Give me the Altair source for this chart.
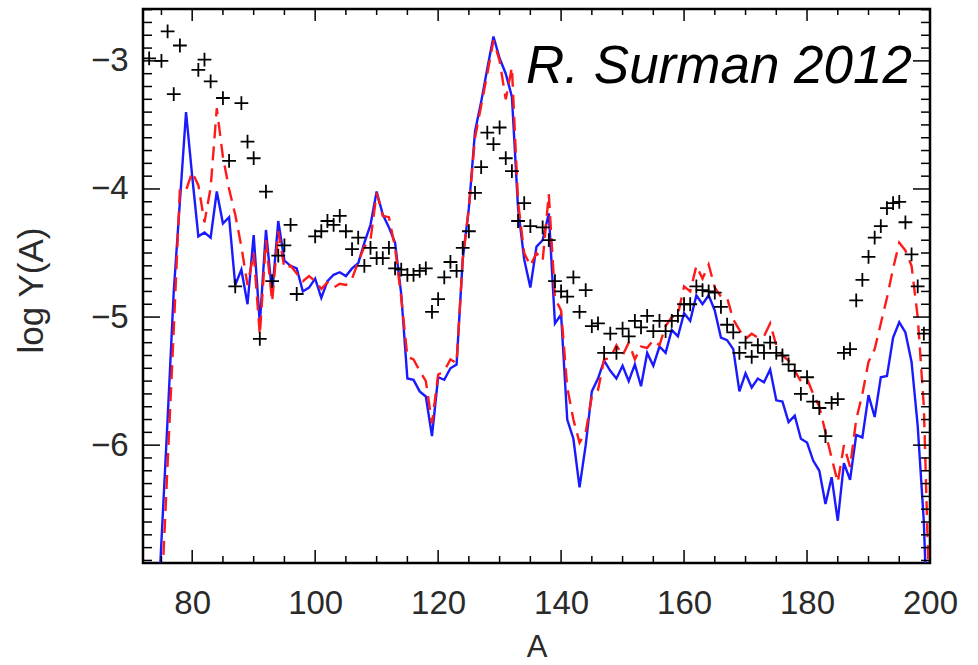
import altair as alt
import pandas as pd

# ---------------- data ----------------
cross_A = [73, 75, 76, 77, 78, 81, 82, 83, 85, 86, 87, 88, 89, 90, 91, 92, 93, 94, 95, 96, 97,
           100, 101, 102, 103, 104, 105, 106, 107, 108, 109, 110, 111, 112, 113, 114, 115, 116,
           117, 118, 119, 120, 121, 122, 123, 124, 125, 126, 127, 128, 129, 130, 131, 132, 133,
           134, 135, 137, 138, 139, 140, 141, 142, 143, 144, 145, 146, 147, 148, 149, 150, 151,
           152, 153, 154, 155, 156, 157, 158, 159, 160, 161, 162, 163, 164, 165, 166, 167, 168,
           169, 170, 171, 172, 173, 174, 175, 176, 177, 178, 179, 180, 181, 182, 183, 184, 185,
           186, 187, 188, 189, 190, 191, 192, 193, 194, 195, 196, 197, 198, 199]
cross_logY = [-2.98, -3.00, -2.77, -3.26, -2.88, -3.07, -2.99, -3.16, -3.29, -3.78, -4.76, -3.33,
              -3.63, -3.76, -5.17, -4.02, -4.72, -4.52, -4.44, -4.28, -4.82,
              -4.37, -4.33, -4.25, -4.28, -4.21, -4.33, -4.47, -4.38, -4.60, -4.46, -4.54, -4.54,
              -4.46, -4.62, -4.63, -4.67, -4.67,
              -4.64, -4.62, -4.96, -4.86, -4.69, -4.57, -4.64, -4.46, -4.33, -4.03, -3.83, -3.56,
              -3.65, -3.52, -3.76, -3.86, -4.25,
              -4.11, -4.29, -4.30, -4.40, -4.72, -4.80, -4.84, -4.69, -4.96, -4.79, -5.07, -5.05,
              -5.28, -5.13, -5.28, -5.09, -5.15,
              -5.03, -5.08, -4.99, -5.11, -5.03, -5.11, -5.03, -4.99, -4.90, -4.90, -4.76, -4.79,
              -4.80, -4.81, -4.92, -5.06, -5.12,
              -5.28, -5.20, -5.31, -5.22, -5.28, -5.20, -5.28, -5.30, -5.37, -5.42, -5.60, -5.47,
              -5.66, -5.71, -5.93, -5.67, -5.64,
              -5.28, -5.25, -4.87, -4.71, -4.53, -4.38, -4.29, -4.15, -4.11, -4.10, -4.26, -4.51,
              -4.76, -5.13]

blue_A = list(range(74, 201))
blue_logY = [-7.70, -6.75, -5.80, -4.80, -4.10, -3.40, -3.90, -4.37, -4.34, -4.38,   # 74-83
             -4.02, -4.27, -4.22, -4.75, -4.63, -4.90, -4.36, -5.05, -4.32, -4.82,   # 84-93
             -4.25, -4.56, -4.60, -4.62, -4.80, -4.77, -4.70, -4.85, -4.72, -4.67,   # 94-103
             -4.65, -4.68, -4.62, -4.58, -4.42, -4.28, -4.02, -4.20, -4.30, -4.42,   # 104-113
             -4.82, -5.48, -5.49, -5.58, -5.62, -5.93, -5.47, -5.49, -5.40, -5.37,   # 114-123
             -4.55, -4.15, -3.55, -3.32, -3.06, -2.81, -2.98, -3.10, -3.28, -4.15,   # 124-133
             -4.55, -4.77, -4.45, -4.40, -4.19, -5.05, -4.98, -5.80, -5.95, -6.33,   # 134-143
             -6.00, -5.58, -5.48, -5.34, -5.42, -5.48, -5.38, -5.50, -5.37, -5.54,   # 144-153
             -5.28, -5.38, -5.23, -5.28, -5.10, -5.15, -4.97, -5.03, -4.83, -4.90,   # 154-163
             -4.83, -4.95, -5.16, -5.18, -5.25, -5.58, -5.44, -5.55, -5.48, -5.51,   # 164-173
             -5.41, -5.65, -5.66, -5.82, -5.77, -5.95, -5.98, -6.12, -6.20, -6.46,   # 174-183
             -6.25, -6.59, -6.14, -6.27, -5.92, -5.94, -5.61, -5.78, -5.47, -5.46,   # 184-193
             -5.16, -5.04, -5.12, -5.35, -5.85, -6.60, -8.00]                        # 194-200

red_A = list(range(75, 201))
red_logY = [-7.20, -6.15, -5.10, -4.00, -4.01, -3.87, -3.97, -4.26, -3.99,            # 75-83
            -3.37, -3.75, -4.00, -4.20, -4.45, -4.75, -4.50, -5.14, -4.40, -4.88,     # 84-93
            -4.33, -4.62, -4.60, -4.66, -4.72, -4.68, -4.72, -4.78, -4.73, -4.77,     # 94-103
            -4.74, -4.75, -4.70, -4.57, -4.45, -4.40, -4.03, -4.21, -4.22, -4.46,     # 104-113
            -4.85, -5.31, -5.33, -5.42, -5.50, -5.83, -5.45, -5.42, -5.33, -5.36,     # 114-123
            -4.55, -4.15, -3.60, -3.35, -3.10, -2.84, -3.00, -3.30, -3.05, -4.10,     # 124-133
            -4.50, -4.60, -4.50, -4.56, -4.04, -4.85, -4.95, -5.55, -5.80, -5.98,     # 134-143
            -5.90, -5.62, -5.57, -5.33, -5.32, -5.22, -5.30, -5.20, -5.33, -5.23,     # 144-153
            -5.24, -5.18, -5.22, -5.07, -5.00, -4.98, -4.76, -4.80, -4.60, -4.70,     # 154-163
            -4.59, -4.77, -4.84, -4.85, -5.02, -5.10, -5.17, -5.13, -5.16, -5.15,     # 164-173
            -5.05, -5.22, -5.30, -5.34, -5.42, -5.50, -5.48, -5.60, -5.70, -5.90,     # 174-183
            -6.10, -6.29, -6.00, -6.17, -5.80, -5.60, -5.35, -5.25, -5.05, -4.85,     # 184-193
            -4.62, -4.42, -4.48, -4.60, -5.00, -5.70, -7.40]                          # 194-200

x_major = [80, 100, 120, 140, 160, 180, 200]
x_minor = [a for a in range(75, 200, 5) if a % 20 != 0]
y_major = [-3, -4, -5, -6]
y_minor = [round(-6.9 + 0.1 * i, 1) for i in range(44) if (i + 1) % 10 != 0]

label_text = ["R. Surman 2012"]

# ---------------- chart ----------------
W, H = 787, 554
FONT = "Liberation Sans"
TXT = "#2a2a2a"
xs = alt.Scale(domain=[72, 200], nice=False, zero=False)
ys = alt.Scale(domain=[-6.92, -2.595], nice=False, zero=False)

x_axis = alt.Axis(values=x_major, ticks=False, domain=False, grid=False, format="d",
                  labelFont=FONT, labelFontSize=33, labelColor=TXT, labelPadding=24,
                  labelFlush=False, title="A", titleFont=FONT, titleFontSize=31,
                  titleFontWeight="normal", titleColor=TXT, titleY=84,
                  titleBaseline="middle")
y_axis = alt.Axis(values=y_major, ticks=False, domain=False, grid=False, format="d",
                  labelFont=FONT, labelFontSize=33, labelColor=TXT, labelPadding=15,
                  labelFlush=False, title="log Y(A)", titleFont=FONT, titleFontSize=35,
                  titleFontWeight="normal", titleColor=TXT, titleX=-112, titleY=H / 2 + 4,
                  titleAngle=-90, titleAlign="center", titleBaseline="middle")

X = alt.X("A:Q", scale=xs, axis=x_axis)
Y = alt.Y("logY:Q", scale=ys, axis=y_axis)

blue_df = pd.DataFrame({"A": blue_A, "logY": blue_logY})
red_df = pd.DataFrame({"A": red_A, "logY": red_logY})
cross_df = pd.DataFrame({"A": cross_A, "logY": cross_logY})

blue = alt.Chart(blue_df).mark_line(color="#1a1aff", strokeWidth=2.4, clip=True).encode(x=X, y=Y)
red = alt.Chart(red_df).mark_line(color="#ff1a1a", strokeWidth=2.4, strokeDash=[14, 8],
                                  clip=True).encode(x=X, y=Y)
crosses = alt.Chart(cross_df).mark_point(shape="M-1,0L1,0M0,-1L0,1", filled=False,
                                         color="black", strokeWidth=1.8, size=190,
                                         opacity=1, clip=True).encode(x=X, y=Y)


def x_ticks(vals, length, top):
    df = pd.DataFrame({"A": vals})
    y1, y2 = (0, length) if top else (H, H - length)
    return alt.Chart(df).mark_rule(color="black", strokeWidth=1.5).encode(
        x=X, y=alt.value(y1), y2=alt.value(y2))


def y_ticks(vals, length, right):
    df = pd.DataFrame({"logY": vals})
    x1, x2 = (W, W - length) if right else (0, length)
    return alt.Chart(df).mark_rule(color="black", strokeWidth=1.5).encode(
        y=Y, x=alt.value(x1), x2=alt.value(x2))


ticks = [
    x_ticks(x_major, 13, False), x_ticks(x_minor, 7, False),
    x_ticks(x_major, 12, True), x_ticks(x_minor, 6, True),
    y_ticks(y_major, 17, False), y_ticks(y_minor, 9, False),
    y_ticks(y_major, 17, True), y_ticks(y_minor, 9, True),
]

label = alt.Chart(pd.DataFrame({"t": label_text})).mark_text(
    font=FONT, fontStyle="italic", fontSize=53, align="right", baseline="alphabetic",
    color="black").encode(text="t:N", x=alt.value(769), y=alt.value(74))

chart = alt.layer(blue, red, crosses, *ticks, label).properties(
    width=W, height=H,
    padding={"left": 143, "top": 9, "right": 48, "bottom": 102},
    autosize=alt.AutoSizeParams(type="none"),
    background="white",
).configure_view(stroke="black", strokeWidth=2.5)

chart.save("out.html", embed_options={"renderer": "svg", "actions": False})
